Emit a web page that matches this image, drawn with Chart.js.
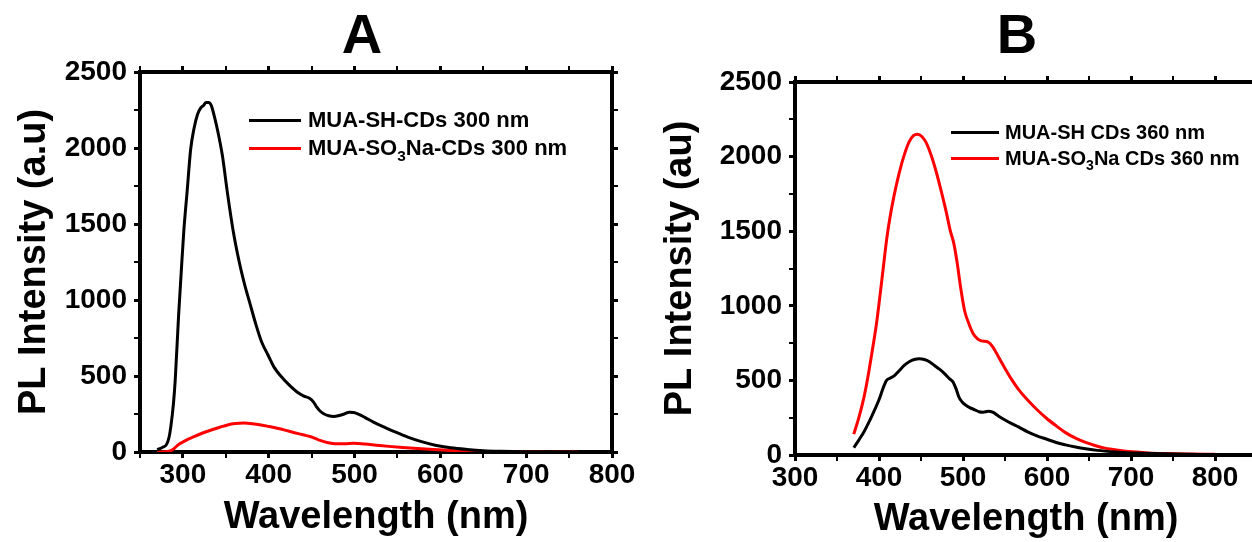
<!DOCTYPE html>
<html>
<head>
<meta charset="utf-8">
<script src="https://cdn.jsdelivr.net/npm/chart.js@4"></script>
<style>
html, body { margin: 0; padding: 0; width: 1252px; height: 542px; overflow: hidden; background: #fff; }
canvas { position: absolute; top: 0; }
#chartA { left: 0; }
#chartB { left: 640px; }
.leg { position: absolute; font-family: "Liberation Sans", Arial, sans-serif; font-weight: bold; white-space: nowrap; color: #000; }
.leg sub { font-size: 70%; vertical-align: baseline; position: relative; top: 0.38em; }
.swatch { position: absolute; height: 3px; }
</style>
</head>
<body>
<canvas id="chartA" width="724" height="542"></canvas>
<canvas id="chartB" width="754" height="542"></canvas>
<div id="legends"></div>
<script>
// panel A: excitation 300 nm
const wlA_SH = [270, 276, 281, 284, 286, 289, 291, 295, 298, 301, 305, 309, 313, 317, 321, 324, 327, 330, 333, 337, 341, 346, 352, 359, 366, 372, 378, 385, 392, 399, 406, 414, 424, 433, 441, 447, 452, 456, 460, 464, 470, 476, 482, 488, 494, 499, 505, 512, 522, 534, 548, 562, 577, 594, 612, 631, 650, 670, 700, 730, 760];
const intA_SH = [15, 30, 50, 100, 170, 320, 470, 900, 1180, 1450, 1720, 1990, 2130, 2220, 2265, 2280, 2300, 2300, 2280, 2200, 2100, 1950, 1700, 1440, 1240, 1100, 980, 840, 720, 640, 560, 500, 440, 395, 368, 355, 330, 295, 268, 252, 238, 234, 240, 250, 262, 260, 248, 228, 196, 165, 130, 98, 70, 45, 28, 17, 9, 5, 2, 1, 0];
const wlA_SO3 = [270, 282, 288, 294, 303, 313, 323, 333, 343, 352, 361, 371, 381, 391, 400, 410, 420, 430, 440, 449, 458, 468, 477, 488, 499, 512, 525, 540, 556, 573, 592, 612, 640, 670, 710, 760];
const intA_SO3 = [0, 3, 15, 45, 75, 101, 125, 145, 163, 178, 187, 190, 186, 178, 168, 156, 142, 127, 113, 100, 80, 62, 55, 54, 57, 52, 45, 37, 30, 23, 16, 10, 5, 2, 1, 0];

// panel B: excitation 360 nm
const wlB_SH = [370, 376, 382, 388, 394, 400, 405, 409, 413, 418, 424, 430, 436, 442, 448, 454, 460, 466, 472, 478, 484, 488, 492, 495, 499, 503, 508, 514, 519, 524, 530, 536, 542, 550, 558, 566, 577, 588, 599, 611, 622, 634, 648, 660, 669, 690, 716, 750, 800];
const intB_SH = [50, 100, 154, 220, 293, 370, 450, 500, 515, 530, 565, 600, 625, 640, 645, 640, 625, 600, 575, 545, 510, 490, 440, 390, 355, 335, 318, 303, 290, 287, 293, 285, 262, 235, 210, 188, 155, 128, 107, 84, 68, 53, 40, 31, 26, 17, 11, 6, 3];
const wlB_SO3 = [370, 376, 382, 387, 392, 397, 401, 405, 409, 413, 418, 424, 430, 436, 441, 446, 451, 456, 462, 468, 474, 480, 485, 489, 493, 497, 502, 507, 512, 517, 522, 530, 536, 543, 550, 558, 566, 575, 587, 599, 611, 622, 634, 646, 658, 669, 685, 702, 720, 740, 770, 800];
const intB_SO3 = [140, 250, 385, 530, 700, 880, 1060, 1250, 1440, 1590, 1740, 1890, 2010, 2100, 2140, 2150, 2135, 2095, 2010, 1900, 1770, 1630, 1500, 1420, 1290, 1130, 965, 880, 815, 780, 765, 757, 720, 650, 580, 505, 440, 380, 310, 248, 195, 150, 113, 84, 62, 46, 32, 21, 14, 10, 7, 5];

const labelsA = ['MUA-SH-CDs 300 nm', 'MUA-SO3Na-CDs 300 nm'];
const labelsB = ['MUA-SH CDs 360 nm', 'MUA-SO3Na CDs 360 nm'];
const colors = ['#000000', '#ff0000'];

const yTicks = [0, 500, 1000, 1500, 2000, 2500];
const FONT = '"Liberation Sans", Arial, sans-serif';

function bold(size) { return { family: FONT, size: size, weight: 'bold' }; }

function makePanel(canvasId, p) {
    const border = { display: true, color: '#000', width: 4 };
    const grid = (major) => ({
        display: true, drawOnChartArea: false, drawTicks: true, tickLength: 6,
        color: '#000',
        lineWidth: c => (c.tick && c.tick.value % major === 0) ? 3 : 2
    });
    const datasets = p.series.map((s, i) => ({
        label: s.label,
        data: s.x.map((v, j) => ({ x: v, y: s.y[j] })),
        borderColor: colors[i],
        borderWidth: 3,
        pointRadius: 0,
        fill: false,
        cubicInterpolationMode: 'monotone'
    }));
    return new Chart(document.getElementById(canvasId), {
        type: 'line',
        data: { datasets: datasets },
        options: {
            responsive: false,
            animation: false,
            layout: { padding: 0 },
            plugins: {
                legend: { display: false },
                tooltip: { enabled: false },
                title: {
                    display: true, text: p.title, color: '#000',
                    font: bold(56), padding: { top: 4, bottom: 0 }
                }
            },
            scales: {
                x: {
                    type: 'linear', position: 'bottom', min: p.xMin, max: p.xMax,
                    ticks: {
                        stepSize: 50, autoSkip: false, maxRotation: 0, padding: 0,
                        color: '#000', font: bold(28),
                        callback: v => v % 100 === 0 ? String(v) : ''
                    },
                    grid: grid(100), border: border,
                    title: {
                        display: true, text: 'Wavelength (nm)', color: '#000',
                        font: bold(38), padding: { top: 0, bottom: p.xTitlePad }
                    },
                    afterFit: s => { s.height = p.xH; }
                },
                x2: {
                    type: 'linear', position: 'top', min: p.xMin, max: p.xMax,
                    ticks: { stepSize: 50, display: false },
                    grid: grid(100), border: border,
                    afterFit: s => { s.height = p.topH; }
                },
                y: {
                    type: 'linear', position: 'left', min: 0, max: 2500,
                    ticks: {
                        stepSize: 250, autoSkip: false, padding: 7,
                        color: '#000', font: bold(28),
                        callback: v => yTicks.includes(v) ? String(v) : ''
                    },
                    grid: grid(500), border: border,
                    title: {
                        display: true, text: p.yTitle, color: '#000',
                        font: bold(38), padding: { top: p.yTitlePad, bottom: 0 }
                    },
                    afterFit: s => { s.width = p.leftW; }
                },
                y2: {
                    type: 'linear', position: 'right', min: 0, max: 2500,
                    ticks: { stepSize: 250, display: false },
                    grid: grid(500), border: border,
                    afterFit: s => { s.width = p.rightW; }
                }
            }
        }
    });
}

makePanel('chartA', {
    title: 'A', yTitle: 'PL Intensity (a.u)',
    xMin: 250, xMax: 800,
    series: [
        { label: labelsA[0], x: wlA_SH, y: intA_SH },
        { label: labelsA[1], x: wlA_SO3, y: intA_SO3 }
    ],
    xH: 90, topH: 0.8, leftW: 140, rightW: 112, xTitlePad: 2, yTitlePad: 12
});

makePanel('chartB', {
    title: 'B', yTitle: 'PL Intensity (au)',
    xMin: 300, xMax: 850,
    series: [
        { label: labelsB[0], x: wlB_SH, y: intB_SH },
        { label: labelsB[1], x: wlB_SO3, y: intB_SO3 }
    ],
    xH: 87, topH: 10.8, leftW: 155, rightW: 137, xTitlePad: 0, yTitlePad: 18
});

// legends (HTML so the 3 in SO3 can be a subscript)
function addLegend(labels, lineX, lineW, textX, ys, size) {
    const box = document.getElementById('legends');
    labels.forEach((txt, i) => {
        const sw = document.createElement('div');
        sw.className = 'swatch';
        sw.style.left = lineX + 'px';
        sw.style.width = lineW + 'px';
        sw.style.top = (ys[i] - 1.5) + 'px';
        sw.style.background = colors[i];
        box.appendChild(sw);
        const t = document.createElement('div');
        t.className = 'leg';
        t.style.left = textX + 'px';
        t.style.top = (ys[i] - size / 2) + 'px';
        t.style.fontSize = size + 'px';
        t.style.lineHeight = size + 'px';
        t.innerHTML = txt.replace('SO3', 'SO<sub>3</sub>');
        box.appendChild(t);
    });
}
addLegend(labelsA, 249, 52, 308, [120, 148], 22);
addLegend(labelsB, 951, 48, 1005, [132, 158], 20);
</script>
</body>
</html>
